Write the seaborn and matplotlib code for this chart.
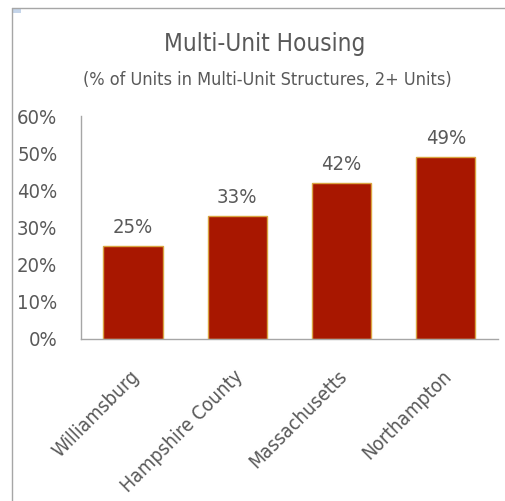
import pandas as pd
import matplotlib
matplotlib.use("Agg")
import matplotlib.pyplot as plt
from matplotlib.lines import Line2D
from matplotlib.patches import Rectangle
from matplotlib.ticker import PercentFormatter
from matplotlib.transforms import ScaledTranslation
import seaborn as sns

# data
places = ["Williamsburg", "Hampshire County", "Massachusetts", "Northampton"]
share = [0.25, 0.33, 0.42, 0.49]
y_ticks = [0, 0.1, 0.2, 0.3, 0.4, 0.5, 0.6]

df = pd.DataFrame({"place": places, "share": share})

sns.set_style("white")
plt.rcParams["font.family"] = ["DejaVu Sans"]
plt.rcParams["font.stretch"] = "condensed"
text_color = "#595959"

fig = plt.figure(figsize=(5.06, 5.01), dpi=100)
ax = fig.add_axes([0.160, 0.3234, 0.824, 0.4446])

sns.barplot(data=df, x="place", y="share", color="#A81700", width=0.57,
            edgecolor="#D9A441", linewidth=1, saturation=1, ax=ax)

for p, v in zip(ax.patches, share):
    ax.text(p.get_x() + p.get_width() / 2, v + 0.025, f"{v:.0%}",
            ha="center", va="bottom", fontsize=14.5, color=text_color)

ax.set_ylim(0, 0.6)
ax.set_yticks(y_ticks)
ax.yaxis.set_major_formatter(PercentFormatter(1, decimals=0))
ax.set_xlim(-0.5, 3.5)
ax.set_xlabel("")
ax.set_ylabel("")
ax.tick_params(axis="y", length=0, pad=17, labelsize=14.5, labelcolor=text_color)
ax.tick_params(axis="x", length=0, pad=16, labelsize=14, labelcolor=text_color)
shift = ScaledTranslation(3 / 100, -12 / 100, fig.dpi_scale_trans)
for lbl in ax.get_xticklabels():
    lbl.set_rotation(45)
    lbl.set_ha("right")
    lbl.set_va("center")
    lbl.set_rotation_mode("anchor")
    lbl.set_transform(lbl.get_transform() + shift)

sns.despine(ax=ax)
for s in ["left", "bottom"]:
    ax.spines[s].set_color("#A6A6A6")
    ax.spines[s].set_linewidth(1)

# title lines
fig.text(0.524, 0.898, "Multi-Unit Housing", ha="center", va="baseline",
         fontsize=17.5, color=text_color)
fig.text(0.528, 0.830, "(% of Units in Multi-Unit Structures, 2+ Units)",
         ha="center", va="baseline", fontsize=13, color=text_color)

# outer frame (left and top edges) and the small corner marker
fig.add_artist(Line2D([0.0237, 0.0237], [0, 0.984], color="#A6A6A6", lw=1))
fig.add_artist(Line2D([0.0237, 1], [0.984, 0.984], color="#A6A6A6", lw=1))
fig.add_artist(Rectangle((0.025, 0.974), 0.017, 0.008, transform=fig.transFigure,
                         facecolor="#C5D5EA", edgecolor="none"))

fig.savefig("out.png", dpi=100)
